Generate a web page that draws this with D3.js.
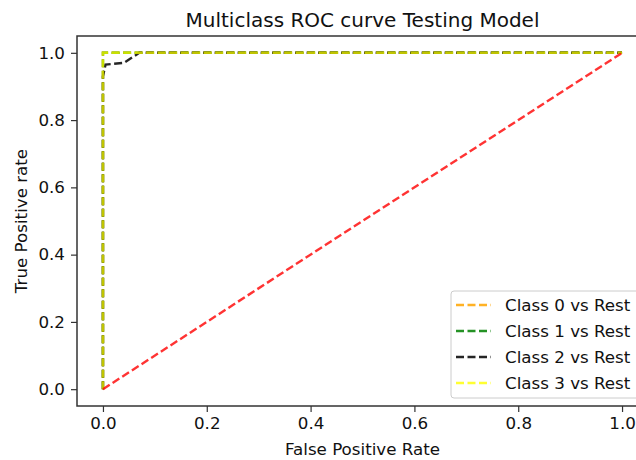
<!DOCTYPE html>
<html><head><meta charset="utf-8">
<script src="https://cdn.jsdelivr.net/npm/d3@7"></script>
<style>body{margin:0;background:#fff}svg{display:block;font-family:"DejaVu Sans",sans-serif}</style>
</head><body>
<svg id="c" width="636" height="460"></svg>
<script>
const title = "Multiclass ROC curve Testing Model";
const xLabel = "False Positive Rate";
const yLabel = "True Positive rate";
const ticks = [0, 0.2, 0.4, 0.6, 0.8, 1.0];
const classNames = ["Class 0 vs Rest", "Class 1 vs Rest", "Class 2 vs Rest", "Class 3 vs Rest"];
const classColors = ["orange", "green", "black", "yellow"];
const fpr0 = [0, 0, 0, 1];
const tpr0 = [0, 0.97, 1, 1];
const fpr1 = [0, 0, 0, 1];
const tpr1 = [0, 0.9, 1, 1];
const fpr2 = [0, 0, 0.005, 0.04, 0.07, 1];
const tpr2 = [0, 0.93, 0.965, 0.97, 1, 1];
const fpr3 = [0, 0, 1];
const tpr3 = [0, 1, 1];
const diagX = [0, 1];
const diagY = [0, 1];

const svg = d3.select("#c");
const L = 77, R = 648, T = 36, B = 406;
const FS = 16.7;
const x = d3.scaleLinear().domain([-0.05, 1.05]).range([L, R]);
const y = d3.scaleLinear().domain([-0.05, 1.05]).range([B, T]);

const curves = [[fpr0,tpr0],[fpr1,tpr1],[fpr2,tpr2],[fpr3,tpr3]];
const line = d3.line().x(d => x(d[0])).y(d => y(d[1]));
const g = svg.append("g");
curves.forEach((c, i) => {
  const pts = c[0].map((v, j) => [v, c[1][j]]);
  g.append("path").attr("d", line(pts)).attr("fill", "none")
    .attr("stroke", classColors[i]).attr("stroke-width", 2.4)
    .attr("stroke-dasharray", "8,3.5").attr("opacity", i === 3 ? 0.75 : 0.85);
});
g.append("path").attr("d", line(diagX.map((v, j) => [v, diagY[j]]))).attr("fill", "none")
  .attr("stroke", "red").attr("stroke-width", 2.4).attr("stroke-dasharray", "8,3.5").attr("opacity", 0.8);

// frame
svg.append("rect").attr("x", L).attr("y", T).attr("width", R - L).attr("height", B - T)
  .attr("fill", "none").attr("stroke", "#333").attr("stroke-width", 1.5);

const xa = svg.append("g").attr("transform", `translate(0,${B})`)
  .call(d3.axisBottom(x).tickValues(ticks).tickFormat(d3.format(".1f")).tickSize(6).tickPadding(5));
const ya = svg.append("g").attr("transform", `translate(${L},0)`)
  .call(d3.axisLeft(y).tickValues(ticks).tickFormat(d3.format(".1f")).tickSize(6).tickPadding(6));
[xa, ya].forEach(a => {
  a.select(".domain").remove();
  a.selectAll("line").attr("stroke", "#333").attr("stroke-width", 1.2);
  a.selectAll("text").attr("font-size", FS).attr("fill", "#111").attr("font-family", "DejaVu Sans");
});

svg.append("text").attr("x", (L + R) / 2).attr("y", 27).attr("text-anchor", "middle")
  .attr("font-size", 20).attr("fill", "#111").text(title);
svg.append("text").attr("x", (L + R) / 2).attr("y", 455).attr("text-anchor", "middle")
  .attr("font-size", FS).attr("fill", "#111").text(xLabel);
svg.append("text").attr("transform", `translate(27,${(T + B) / 2}) rotate(-90)`).attr("text-anchor", "middle")
  .attr("font-size", FS).attr("fill", "#111").text(yLabel);

// legend
const lg = svg.append("g");
lg.append("rect").attr("x", 451).attr("y", 291).attr("width", 190).attr("height", 107).attr("rx", 3)
  .attr("fill", "#fff").attr("fill-opacity", 0.85).attr("stroke", "#ccc");
classNames.forEach((n, i) => {
  const yy = 305 + i * 26;
  lg.append("line").attr("x1", 456).attr("x2", 491).attr("y1", yy).attr("y2", yy)
    .attr("stroke", classColors[i]).attr("stroke-width", 2.4).attr("stroke-dasharray", "8,3.5")
    .attr("opacity", i === 3 ? 0.8 : 0.85);
  lg.append("text").attr("x", 505).attr("y", yy + 6).attr("font-size", FS).attr("fill", "#111").text(n);
});
</script>
</body></html>
